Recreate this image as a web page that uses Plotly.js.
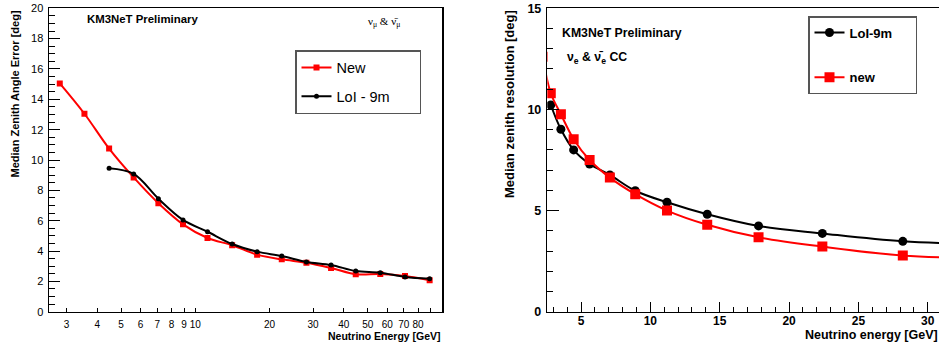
<!DOCTYPE html>
<html>
<head>
<meta charset="utf-8">
<script src="https://cdn.plot.ly/plotly-3.0.1.min.js"></script>
<style>
html,body{margin:0;padding:0;background:#fff;overflow:hidden;}
#chart{width:939px;height:345px;}
</style>
</head>
<body>
<div id="chart"></div>
<script>
// ---- Left panel: nu_mu & anti-nu_mu, median zenith angle error ----
const energyMuNew = [2.82, 3.55, 4.47, 5.62, 7.08, 8.91, 11.2, 14.1, 17.8, 22.4, 28.2, 35.5, 44.7, 56.2, 70.8, 89.1];
const errMuNew    = [15.05, 13.05, 10.75, 8.85, 7.15, 5.76, 4.86, 4.38, 3.76, 3.45, 3.23, 2.88, 2.47, 2.48, 2.35, 2.07];
const energyMuLoI = [4.47, 5.62, 7.08, 8.91, 11.2, 14.1, 17.8, 22.4, 28.2, 35.5, 44.7, 56.2, 70.8, 89.1];
const errMuLoI    = [9.45, 9.08, 7.45, 6.05, 5.27, 4.46, 3.96, 3.67, 3.28, 3.08, 2.68, 2.57, 2.29, 2.18];
const muTickVals  = [3, 4, 5, 6, 7, 8, 9, 10, 20, 30, 40, 50, 60, 70, 80, 90];
const muTickText  = ["3", "4", "5", "6", "7", "8", "9", "10", "20", "30", "40", "50", "60", "70", "80", " "];

// ---- Right panel: nu_e & anti-nu_e CC, median zenith resolution ----
const energyELoI = [2.82, 3.55, 4.47, 5.62, 7.08, 8.91, 11.2, 14.1, 17.8, 22.4, 28.2, 35.5];
const resELoI    = [10.22, 9.02, 8.00, 7.30, 6.76, 5.98, 5.41, 4.82, 4.24, 3.87, 3.48, 3.30];
const energyENew = [2.24, 2.82, 3.55, 4.47, 5.62, 7.08, 8.91, 11.2, 14.1, 17.8, 22.4, 28.2, 35.5];
const resENew    = [12.6, 10.80, 9.76, 8.53, 7.50, 6.63, 5.81, 5.00, 4.30, 3.68, 3.22, 2.78, 2.60];

const FONT = "Liberation Sans, Arial, Helvetica, sans-serif";
const W = 939, H = 345;
const px = v => v / W;
const py = v => (H - v) / H;
const pad = n => '\u00a0'.repeat(n);

const traces = [
  {x: energyMuNew, y: errMuNew, xaxis: 'x', yaxis: 'y', name: 'New', type: 'scatter', mode: 'lines+markers',
   line: {color: '#ff0000', width: 2, shape: 'spline', smoothing: 1}, marker: {symbol: 'square', size: 6, color: '#ff0000'},
   legend: 'legend', legendgroup: 'a'},
  {x: energyMuLoI, y: errMuLoI, xaxis: 'x', yaxis: 'y', name: 'LoI - 9m' + pad(6), type: 'scatter', mode: 'lines+markers',
   line: {color: '#000000', width: 2, shape: 'spline', smoothing: 1}, marker: {symbol: 'circle', size: 5, color: '#000000'},
   legend: 'legend', legendgroup: 'b'},
  {x: energyELoI, y: resELoI, xaxis: 'x2', yaxis: 'y2', name: '<b>LoI-9m' + pad(5) + '</b>', type: 'scatter', mode: 'lines+markers',
   line: {color: '#000000', width: 2, shape: 'spline', smoothing: 1}, marker: {symbol: 'circle', size: 9, color: '#000000'},
   legend: 'legend2', legendgroup: 'c'},
  {x: energyENew, y: resENew, xaxis: 'x2', yaxis: 'y2', name: '<b>new</b>', type: 'scatter', mode: 'lines+markers',
   line: {color: '#ff0000', width: 2, shape: 'spline', smoothing: 1}, marker: {symbol: 'square', size: 10, color: '#ff0000'},
   legend: 'legend2', legendgroup: 'd'}
];

const yDom = [py(311.7), py(8.3)];

const layout = {
  width: W, height: H,
  margin: {l: 0, r: 0, t: 0, b: 0},
  paper_bgcolor: '#ffffff', plot_bgcolor: '#ffffff',
  font: {family: FONT, color: '#000'},
  showlegend: true,
  xaxis: {
    type: 'log', domain: [px(49), px(442)], range: [Math.log10(2.55), 2], anchor: 'y',
    tickmode: 'array', tickvals: muTickVals, ticktext: muTickText,
    ticks: 'inside', ticklen: 4, tickwidth: 1, tickcolor: '#000',
    showline: true, linecolor: '#000', linewidth: 1.5, mirror: true,
    showgrid: false, zeroline: false, tickfont: {size: 10, family: FONT}, ticklabelstandoff: 3
  },
  xaxis3: {
    type: 'log', overlaying: 'x', range: [Math.log10(2.55), 2], anchor: 'y',
    tickmode: 'array', tickvals: [10], ticks: 'inside', ticklen: 9, tickwidth: 1, tickcolor: '#000',
    showticklabels: false, showgrid: false, zeroline: false, showline: false
  },
  yaxis: {
    domain: yDom, range: [0, 20], anchor: 'x', dtick: 2, tick0: 0,
    ticks: 'inside', ticklen: 11, tickwidth: 1, tickcolor: '#000',
    minor: {dtick: 0.5, ticks: 'inside', ticklen: 6, tickcolor: '#000', tickwidth: 1, showgrid: false},
    showline: true, linecolor: '#000', linewidth: 1.5, mirror: true,
    showgrid: false, zeroline: false, tickfont: {size: 11, family: FONT}, ticklabelstandoff: 2
  },
  xaxis2: {
    domain: [px(547.3), 1], range: [2.57, 30.81], anchor: 'y2', dtick: 5, tick0: 0,
    ticks: 'inside', ticklen: 10, tickwidth: 1, tickcolor: '#000',
    minor: {dtick: 1, ticks: 'inside', ticklen: 5, tickcolor: '#000', tickwidth: 1, showgrid: false},
    showline: true, linecolor: '#000', linewidth: 1.5, mirror: true,
    showgrid: false, zeroline: false, tickfont: {size: 12, family: FONT, weight: 'bold'}, ticklabelstandoff: -3
  },
  yaxis2: {
    domain: yDom, range: [0, 15], anchor: 'x2', dtick: 5, tick0: 0,
    ticks: 'inside', ticklen: 12, tickwidth: 1, tickcolor: '#000',
    minor: {dtick: 1, ticks: 'inside', ticklen: 6, tickcolor: '#000', tickwidth: 1, showgrid: false},
    showline: true, linecolor: '#000', linewidth: 1.5, mirror: false,
    showgrid: false, zeroline: false, tickfont: {size: 12.5, family: FONT, weight: 'bold'}, ticklabelstandoff: 2
  },
  legend: {
    x: px(295), y: py(50), xanchor: 'left', yanchor: 'top',
    bgcolor: '#ffffff', bordercolor: '#555555', borderwidth: 1.5,
    font: {size: 14.5, family: FONT}, tracegroupgap: 7, traceorder: 'grouped'
  },
  legend2: {
    x: px(808), y: py(16), xanchor: 'left', yanchor: 'top',
    bgcolor: '#ffffff', bordercolor: '#555555', borderwidth: 1.5,
    font: {size: 13, family: FONT}, tracegroupgap: 25, traceorder: 'grouped'
  },
  annotations: [
    {text: '<b>Median Zenith Angle Error [deg]</b>', textangle: -90, xref: 'paper', yref: 'paper',
     x: px(15), y: py(9), xanchor: 'center', yanchor: 'top', showarrow: false, font: {size: 11, family: FONT}},
    {text: '<b>Neutrino Energy [GeV]</b>', xref: 'paper', yref: 'paper',
     x: px(443), y: py(336), xanchor: 'right', yanchor: 'middle', showarrow: false, font: {size: 10.5, family: FONT}},
    {text: '<b>KM3NeT Preliminary</b>', xref: 'paper', yref: 'paper',
     x: px(85), y: py(19), xanchor: 'left', yanchor: 'middle', showarrow: false, font: {size: 11.4, family: FONT}},
    {text: 'ν<sub>μ</sub> & ν\u0304<sub>μ</sub>', xref: 'paper', yref: 'paper',
     x: px(366), y: py(22), xanchor: 'left', yanchor: 'middle', showarrow: false,
     font: {size: 11, family: 'Liberation Serif, DejaVu Serif, serif'}},
    {text: '<b>Median zenith resolution [deg]</b>', textangle: -90, xref: 'paper', yref: 'paper',
     x: px(509), y: py(8), xanchor: 'center', yanchor: 'top', showarrow: false, font: {size: 13, family: FONT}},
    {text: '<b>Neutrino energy [GeV]</b>', xref: 'paper', yref: 'paper',
     x: px(940), y: py(335), xanchor: 'right', yanchor: 'middle', showarrow: false, font: {size: 12.5, family: FONT}},
    {text: '<b>KM3NeT Preliminary</b>', xref: 'paper', yref: 'paper',
     x: px(560), y: py(33), xanchor: 'left', yanchor: 'middle', showarrow: false, font: {size: 12.3, family: FONT}},
    {text: '<b>ν<sub>e</sub> & ν\u0304<sub>e</sub> CC</b>', xref: 'paper', yref: 'paper',
     x: px(565), y: py(58), xanchor: 'left', yanchor: 'middle', showarrow: false, font: {size: 12.3, family: FONT}}
  ]
};

Plotly.newPlot('chart', traces, layout, {displayModeBar: false, staticPlot: true});
</script>
</body>
</html>
